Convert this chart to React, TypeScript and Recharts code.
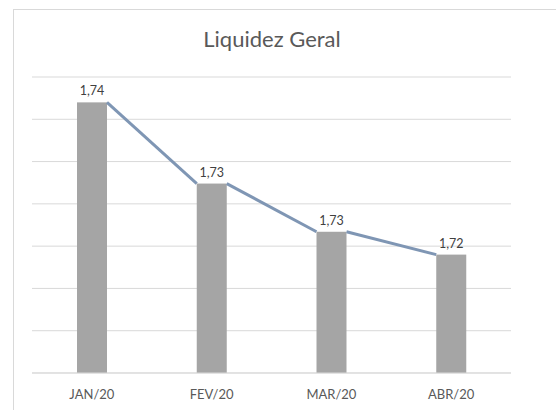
import { BarChart, Bar, CartesianGrid, XAxis, YAxis, LabelList } from 'recharts';

const months = ['JAN/20', 'FEV/20', 'MAR/20', 'ABR/20'];
const liquidez = [1.742, 1.7324, 1.7267, 1.724];
const yTicks = [1.71, 1.715, 1.72, 1.725, 1.73, 1.735, 1.74, 1.745];

const data = months.map((m, i) => ({ mes: m, valor: liquidez[i] }));

const W = 556;
const H = 410;
const M = { top: 77, right: 45, left: 32, bottom: 7 };
const plotW = W - M.left - M.right;
const band = plotW / months.length;
const yMin = yTicks[0];

// bar plus the excel-style series line from its top-right to the next bar's top-left
function BarWithSeriesLine(props: any) {
  const { x, y, width, height, index } = props;
  const next = liquidez[index + 1];
  let seg = null;
  if (next !== undefined) {
    const perUnit = height / (liquidez[index] - yMin);
    const baseY = y + height;
    const nx = x + band;
    const ny = baseY - (next - yMin) * perUnit;
    seg = <line x1={x + width} y1={y} x2={nx} y2={ny} stroke="#7F96B4" strokeWidth={3} />;
  }
  return (
    <g>
      <rect x={x} y={y} width={width} height={height} fill="#A5A5A5" />
      {seg}
    </g>
  );
}

const fmt = (v: any) => Number(v).toFixed(2).replace('.', ',');
const font = 'Lato, "Open Sans", sans-serif';

export default function App() {
  return (
    <div style={{ position: 'absolute', left: 0, top: 0, width: W, height: H, overflow: 'hidden', background: '#fff' }}>
      <BarChart width={W} height={H} data={data} margin={M} barSize={30}>
        <CartesianGrid vertical={false} stroke="#D9D9D9" />
        <XAxis dataKey="mes" axisLine={{ stroke: '#D9D9D9' }} tickLine={false} tickSize={0} tickMargin={17} height={30}
          tick={{ fill: '#595959', fontSize: 13, fontFamily: font }} />
        <YAxis hide width={0} domain={[yTicks[0], yTicks[yTicks.length - 1]]} ticks={yTicks} allowDataOverflow />
        <Bar dataKey="valor" fill="#A5A5A5" shape={BarWithSeriesLine} isAnimationActive={false}>
          <LabelList dataKey="valor" position="top" offset={7} formatter={fmt}
            style={{ fill: '#404040', fontSize: 12.5, fontFamily: font }} />
        </Bar>
      </BarChart>
      <div style={{ position: 'absolute', left: 13, top: 9, width: 600, height: 500, border: '1px solid #D9D9D9', pointerEvents: 'none' }} />
      <div style={{ position: 'absolute', left: 0, top: 25, width: 544, textAlign: 'center', fontFamily: font, fontSize: 22, color: '#595959' }}>
        Liquidez Geral
      </div>
    </div>
  );
}
